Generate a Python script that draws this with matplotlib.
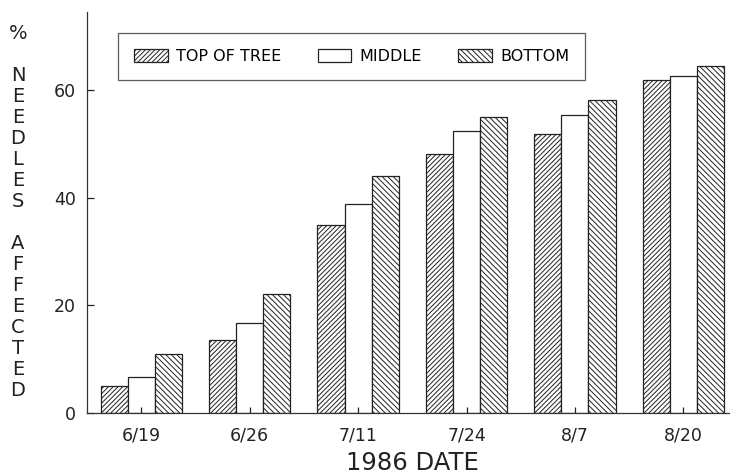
import numpy as np
import matplotlib
matplotlib.use('Agg')
import matplotlib.pyplot as plt

# Datos
fechas = ['6/19', '6/26', '7/11', '7/24', '8/7', '8/20']
arriba = [5.1, 13.6, 34.9, 48.2, 51.8, 61.8]
medio = [6.6, 16.7, 38.8, 52.4, 55.3, 62.6]
abajo = [11.0, 22.1, 44.0, 55.0, 58.1, 64.4]
nombres = ['TOP OF TREE', 'MIDDLE', 'BOTTOM']
etiqueta_y = '%\n\nNEEDLES\n\nAFFECTED'

plt.rcParams['hatch.linewidth'] = 0.7
plt.rcParams['font.family'] = ['DejaVu Sans']

fig = plt.figure(figsize=(7.3, 4.76), dpi=100)
ax = fig.add_axes([87 / 730, 63 / 476, 643 / 730, 401 / 476])

x = np.arange(len(fechas))
ancho = 0.25
ax.bar(x - ancho, arriba, ancho, color='white', edgecolor='#222222',
       hatch='///////', linewidth=0.9, label=nombres[0])
ax.bar(x, medio, ancho, color='white', edgecolor='#222222',
       linewidth=0.9, label=nombres[1])
ax.bar(x + ancho, abajo, ancho, color='white', edgecolor='#222222',
       hatch='\\\\\\\\\\\\', linewidth=0.9, label=nombres[2])

ax.set_xlim(-0.5, 5.43)
ax.set_ylim(0, 74.5)
ax.set_yticks([0, 20, 40, 60])
ax.set_xticks(x)
ax.set_xticklabels(fechas)
ax.tick_params(axis='y', direction='in', length=5, width=0.9, pad=8,
               labelsize=12.5, colors='#222222')
ax.tick_params(axis='x', direction='in', length=4, width=0.9, pad=10,
               labelsize=12.5, colors='#222222')
for s in ['top', 'right']:
    ax.spines[s].set_visible(False)
for s in ['left', 'bottom']:
    ax.spines[s].set_linewidth(0.9)
    ax.spines[s].set_color('#333333')

# Etiquetas: letras apiladas en vertical
letras = []
for parte in etiqueta_y.split('\n\n'):
    letras.append('\n'.join(list(parte)))
fig.text(18 / 730, 1 - 212 / 476, '\n\n'.join(letras), ha='center', va='center',
         fontsize=14, linespacing=1.13, color='#222222')
fig.text(412 / 730, 1 - 463 / 476, '1986 DATE', ha='center', va='center',
         fontsize=17.5, color='#222222')

leg = ax.legend(loc='center', ncol=3, mode='expand',
                bbox_to_anchor=(118 / 730, 1 - 80 / 476, 467 / 730, 47 / 476),
                bbox_transform=fig.transFigure, fancybox=False, frameon=True,
                fontsize=11.5, handlelength=2.1, handleheight=0.85,
                handletextpad=0.5, borderpad=1.0, borderaxespad=0)
leg.get_frame().set_edgecolor('#333333')
leg.get_frame().set_linewidth(0.9)

fig.savefig('out.png', dpi=100)
